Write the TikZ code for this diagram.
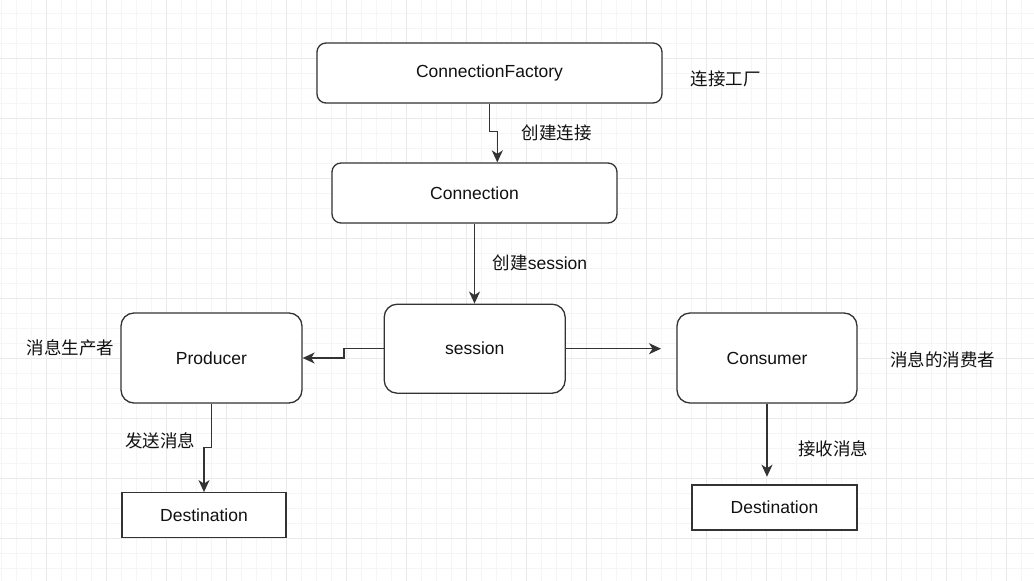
\documentclass[tikz,border=0pt]{standalone}
\usepackage{fontspec}
\setmainfont{Liberation Sans}
\newfontfamily\cjk{Noto Sans CJK SC}
\usetikzlibrary{arrows.meta}
\definecolor{minorgrid}{HTML}{F5F5F5}
\definecolor{majorgrid}{HTML}{EAEAEA}
\definecolor{edge}{HTML}{333333}
\definecolor{txt}{HTML}{111111}
\begin{document}
\begin{tikzpicture}[x=1pt,y=-1pt,
  box/.style={draw=edge,line width=1.3pt,fill=white,text=txt,inner sep=0pt,font=\fontsize{17.5}{20}\selectfont},
  rbox/.style={box,rounded corners=#1},
  lbl/.style={text=txt,inner sep=0pt,font=\fontsize{17.5}{20}\selectfont},
  arr/.style={draw=edge,line width=1.4pt,-{Stealth[length=12pt,width=11pt,inset=3.5pt]}}]
\useasboundingbox (0,0) rectangle (1034,581);
\fill[white] (0,0) rectangle (1034,581);
% grid
\foreach \i in {0,...,68} {\draw[minorgrid,line width=0.7pt] (1.7+15*\i,0) -- (1.7+15*\i,581);}
\foreach \i in {0,...,38} {\draw[minorgrid,line width=0.7pt] (0,13.3+15*\i) -- (1034,13.3+15*\i);}
\foreach \i in {-1,...,16} {\draw[majorgrid,line width=1pt] (46.7+60*\i,0) -- (46.7+60*\i,581);}
\foreach \i in {-1,...,9} {\draw[majorgrid,line width=1pt] (0,58.3+60*\i) -- (1034,58.3+60*\i);}
% nodes
\node[rbox=9pt,minimum width=345pt,minimum height=60pt] (cf) at (489.5,73) {ConnectionFactory};
\node[rbox=9pt,minimum width=285pt,minimum height=60pt] (conn) at (474.5,193) {Connection};
\node[rbox=13pt,minimum width=181pt,minimum height=89pt] (sess) at (474.7,348.7) {session};
\node[rbox=13pt,minimum width=181pt,minimum height=90pt] (prod) at (211.5,358) {Producer};
\node[rbox=13pt,minimum width=180pt,minimum height=90pt] (cons) at (767,358) {Consumer};
\node[box,minimum width=164pt,minimum height=44.5pt] (dst1) at (204,515) {Destination};
\node[box,minimum width=165pt,minimum height=45pt] (dst2) at (774.5,507.5) {Destination};
% labels
\node[lbl] (lcf) at (725.7,79.3) {\cjk 连接工厂};
\node[lbl] (lconn) at (556.7,133.3) {\cjk 创建连接};
\node[lbl] (lsess) at (540,262.7) {{\cjk 创建}session};
\node[lbl] (lprod) at (70.7,348.3) {\cjk 消息生产者};
\node[lbl] (lcons) at (942.7,359.3) {\cjk 消息的消费者};
\node[lbl] (lsend) at (160,440.7) {\cjk 发送消息};
\node[lbl] (lrecv) at (833.3,448.3) {\cjk 接收消息};
% helper coordinates
\coordinate (c1) at (489.5,131.7);
\coordinate (c2) at (497.3,131.7);
\coordinate (c3) at (344,348.7);
\coordinate (c4) at (344,358);
\coordinate (c5) at (661,348.7);
\coordinate (c6) at (211.5,447.3);
\coordinate (c7) at (204,447.3);
\coordinate (c8) at (767,476.7);
% edges
\draw[arr] (cf.south) -- (c1) -- (c2) -- (c2 |- conn.north);
\draw[arr] (conn.south) -- (conn.south |- sess.north);
\draw[arr] (sess.west) -- (c3) -- (c4) -- (prod.east);
\draw[arr] (sess.east) -- (c5);
\draw[arr] (prod.south) -- (c6) -- (c7) -- (dst1.north);
\draw[arr] (cons.south) -- (c8);
\end{tikzpicture}
\end{document}
